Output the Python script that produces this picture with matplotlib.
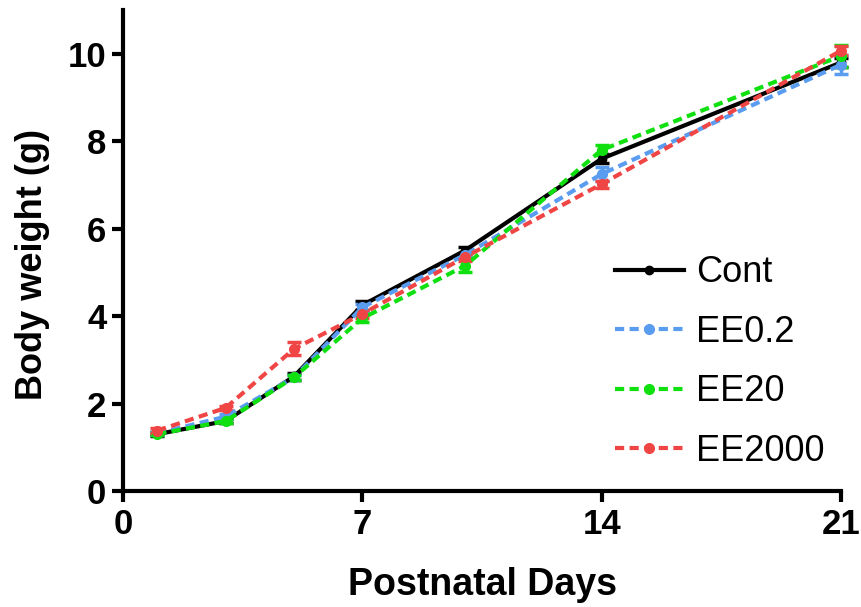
import numpy as np
import matplotlib
matplotlib.use("Agg")
import matplotlib.pyplot as plt
from matplotlib.lines import Line2D

# postnatal day and body weight (g), mean and error per group
days = [1, 3, 5, 7, 10, 14, 21]

cont = [1.30, 1.60, 2.62, 4.25, 5.50, 7.60, 9.80]
cont_err = [0.04, 0.05, 0.08, 0.10, 0.08, 0.10, 0.10]

ee02 = [1.32, 1.70, 2.60, 4.20, 5.40, 7.25, 9.75]
ee02_err = [0.04, 0.05, 0.05, 0.08, 0.05, 0.15, 0.22]

ee20 = [1.30, 1.60, 2.60, 3.95, 5.15, 7.80, 9.95]
ee20_err = [0.03, 0.05, 0.05, 0.08, 0.15, 0.12, 0.25]

ee2000 = [1.38, 1.90, 3.25, 4.05, 5.35, 7.02, 10.07]
ee2000_err = [0.05, 0.05, 0.15, 0.10, 0.08, 0.08, 0.10]

x_ticks = [0, 7, 14, 21]
y_ticks = [0, 2, 4, 6, 8, 10]

plt.rcParams['font.family'] = ['Liberation Sans', 'DejaVu Sans']

fig = plt.figure(figsize=(8.61, 6.07), dpi=100)
ax = fig.add_axes([0.1429, 0.1911, 0.8339, 0.7924])

series = [
    ("Cont", cont, cont_err, "black", "-"),
    ("EE0.2", ee02, ee02_err, "#5a9cf0", "--"),
    ("EE20", ee20, ee20_err, "#10e010", "--"),
    ("EE2000", ee2000, ee2000_err, "#f04545", "--"),
]

handles = []
for name, vals, err, col, ls in series:
    ms = 6 if name == "Cont" else 7
    eb = ax.errorbar(days, vals, yerr=err, color=col, ecolor=col, linestyle=ls,
                     linewidth=3, marker="o", markersize=ms,
                     elinewidth=2.5, capsize=5, capthick=2.5,
                     clip_on=False)
    h = Line2D([], [], color=col, linestyle=ls, linewidth=3, marker="o", markersize=ms)
    if ls == "--":
        eb[0].set_dashes((2.2, 1.3))
        h.set_dashes((2.2, 1.3))
    handles.append(h)

ax.set_xlim(0, 21)
ax.set_ylim(0, 11)
ax.set_xticks(x_ticks)
ax.set_yticks(y_ticks)

for s in ["top", "right"]:
    ax.spines[s].set_visible(False)
for s in ["left", "bottom"]:
    ax.spines[s].set_linewidth(3)

ax.tick_params(axis="both", direction="out", length=8, width=3, labelsize=25, pad=4)
for lab in ax.get_xticklabels() + ax.get_yticklabels():
    lab.set_fontweight("bold")

ax.set_xlabel("Postnatal Days", fontsize=27, fontweight="bold", labelpad=19)
ax.set_ylabel("Body weight (g)", fontsize=26, fontweight="bold")
ax.yaxis.set_label_coords(-0.102, 0.47)

ax.legend(handles, [s[0] for s in series], loc="upper left",
          bbox_to_anchor=(0.665, 0.52), frameon=False,
          fontsize=26, handlelength=1.9, handletextpad=0.35,
          labelspacing=0.68, borderaxespad=0)

fig.savefig("out.png", dpi=100)
